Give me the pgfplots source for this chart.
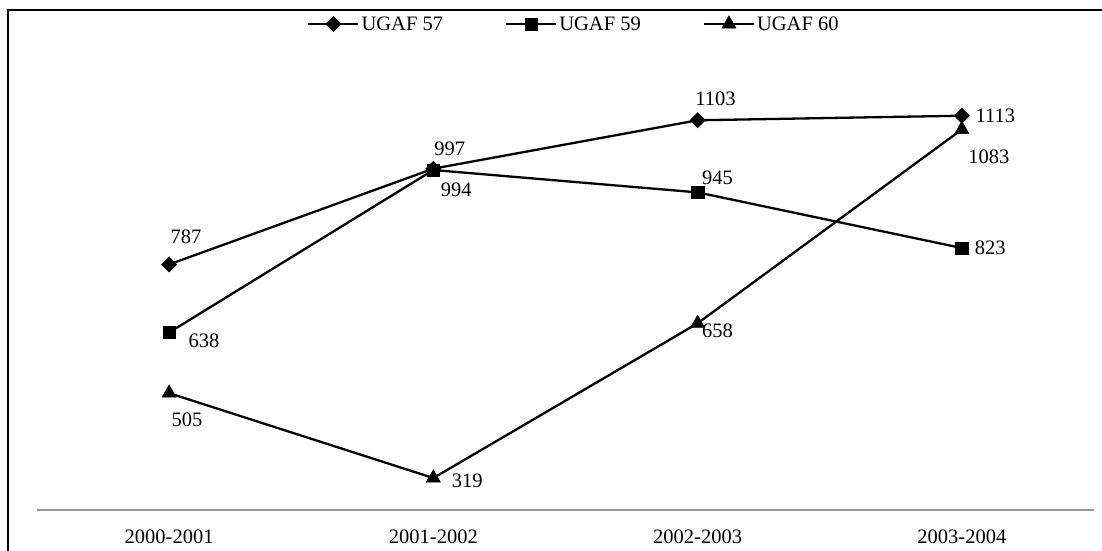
\documentclass[border=0pt]{standalone}
\usepackage{pgfplots}
\pgfplotsset{compat=1.18}
\usepackage{fontspec}
\setmainfont{Liberation Serif}

% values per year, with label offsets (pt) from the mark
\pgfplotstableread{
x y dx dy
0 787 17 28
1 997 16.5 20
2 1103 18 21
3 1113 33.5 0
}\ugafA
\pgfplotstableread{
x y dx dy
0 638 35 -8
1 994 23 -20
2 945 20 15
3 823 28.5 0
}\ugafB
\pgfplotstableread{
x y dx dy
0 505 18 -27
1 319 34 -3
2 658 20 -7
3 1083 27 -27
}\ugafC

\begin{document}
\begin{tikzpicture}[x=1pt,y=1pt]
\useasboundingbox (0,0) rectangle (1102,550);
\draw[line width=2.4pt] (8,-20) -- (8,540) -- (1120,540);
\begin{axis}[
  at={(37pt,40.5pt)}, anchor=south west,
  scale only axis, width=1057pt, height=456.3pt,
  xmin=-0.5, xmax=3.5, ymin=250, ymax=1250,
  axis y line=none, axis x line*=bottom,
  x axis line style={-, draw=black!40, line width=2pt},
  xtick={0,1,2,3}, major tick length=0pt,
  xticklabels={2000-2001,2001-2002,2002-2003,2003-2004},
  xticklabel style={anchor=base, yshift=-34pt},
  font=\fontsize{20.5}{24}\selectfont,
  clip=false,
  legend style={at={(0.508,1.064)}, anchor=center, draw=none, fill=none,
    font=\fontsize{20.5}{24}\selectfont, legend columns=3,
    /tikz/every even column/.append style={column sep=60pt},
    inner sep=0pt},
  legend cell align=left,
  legend image code/.code={\draw[mark repeat=2,mark phase=2,#1] plot coordinates {(0pt,0pt) (25pt,0pt) (50pt,0pt)};},
  every axis plot/.append style={black, line width=2.3pt, mark options={solid, line width=0.5pt}},
  point meta=explicit symbolic,
  nodes near coords,
  visualization depends on={\thisrow{dx} \as \dx},
  visualization depends on={\thisrow{dy} \as \dy},
  every node near coord/.append style={anchor=center, xshift=\dx pt, yshift=\dy pt, black, inner sep=0pt},
]
\addplot[mark=square*, mark options={rotate=45}, mark size=4.5] table[x=x, y=y, meta=y] {\ugafA};
\addlegendentry{UGAF 57}
\addplot[mark=square*, mark size=6.2] table[x=x, y=y, meta=y] {\ugafB};
\addlegendentry{UGAF 59}
\addplot[mark=triangle*, mark size=8.2] table[x=x, y=y, meta=y] {\ugafC};
\addlegendentry{UGAF 60}
\end{axis}
\end{tikzpicture}
\end{document}
